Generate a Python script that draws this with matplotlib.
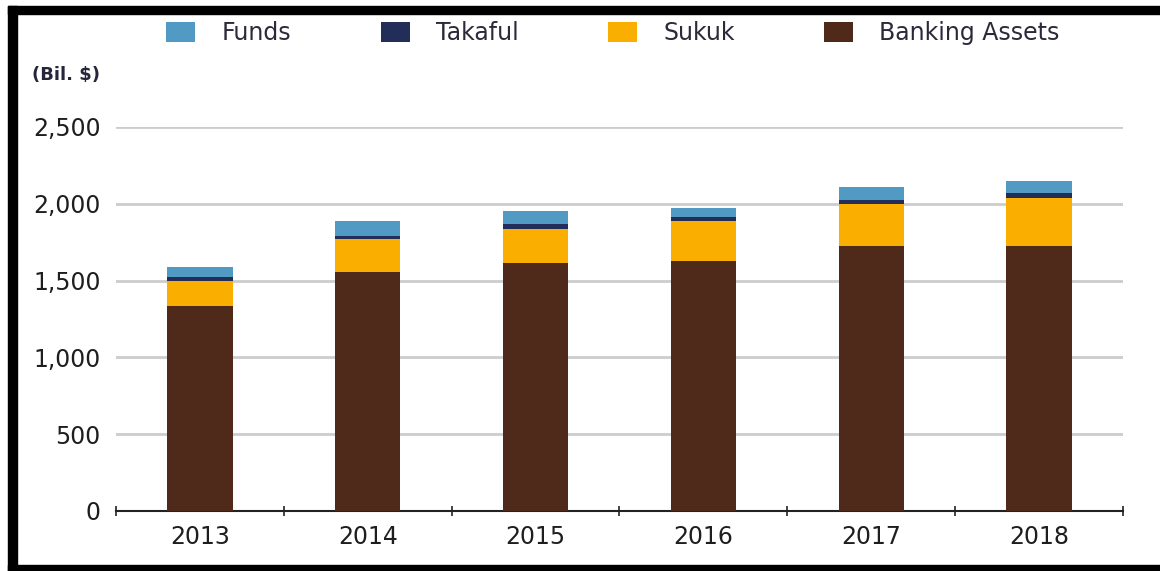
import numpy as np
import matplotlib.pyplot as plt
from matplotlib.patches import Rectangle

# Values (Bil. $)
years = ["2013", "2014", "2015", "2016", "2017", "2018"]
banking = [1333, 1554, 1612, 1628, 1723, 1723]
sukuk = [167, 215, 226, 260, 276, 315]
takaful = [23, 23, 28, 26, 24, 32]
funds = [64, 96, 85, 61, 86, 80]

y_ticks = [0, 500, 1000, 1500, 2000, 2500]
y_labels = ["0", "500", "1,000", "1,500", "2,000", "2,500"]

colors = {
    "Banking Assets": "#4f2a1a",
    "Sukuk": "#f9ae00",
    "Takaful": "#222d5a",
    "Funds": "#519ac4",
}
text_color = "#1e1e1e"

plt.rcParams["font.family"] = "DejaVu Sans"

fig = plt.figure(figsize=(11.6, 5.71), dpi=100)
ax = fig.add_axes([116 / 1160, 1 - 511 / 571, (1123 - 116) / 1160, (511 - 127) / 571])

x = np.arange(len(years))
w = 0.39
b1 = ax.bar(x, banking, w, color=colors["Banking Assets"], zorder=3)
bottom = np.array(banking)
b2 = ax.bar(x, sukuk, w, bottom=bottom, color=colors["Sukuk"], zorder=3)
bottom = bottom + np.array(sukuk)
b3 = ax.bar(x, takaful, w, bottom=bottom, color=colors["Takaful"], zorder=3)
bottom = bottom + np.array(takaful)
b4 = ax.bar(x, funds, w, bottom=bottom, color=colors["Funds"], zorder=3)

ax.set_xlim(-0.5, len(years) - 0.5)
ax.set_ylim(0, 2500)

# y axis: gridlines only
ax.set_yticks(y_ticks)
ax.set_yticklabels(y_labels)
ax.tick_params(axis="y", length=0, pad=11, labelsize=17, labelcolor=text_color)
ax.yaxis.grid(True, color="#cccccc", linewidth=2, zorder=0)

# x axis: labels centered, ticks at category boundaries
ax.set_xticks(x)
ax.set_xticklabels(years)
ax.tick_params(axis="x", which="major", length=0, pad=10, labelsize=17, labelcolor=text_color)
ax.set_xticks(np.arange(-0.5, len(years)), minor=True)
ax.tick_params(axis="x", which="minor", length=7, width=1.2, direction="inout", color="#222222")

for s in ["top", "right", "left"]:
    ax.spines[s].set_visible(False)
ax.spines["bottom"].set_linewidth(1.5)
ax.spines["bottom"].set_color("#222222")

fig.text(32 / 1160, 1 - 75 / 571, "(Bil. $)", fontsize=13, fontweight="bold",
         color="#26263a", va="center", ha="left")

leg = fig.legend([b4, b3, b2, b1], ["Funds", "Takaful", "Sukuk", "Banking Assets"],
                 loc="center", bbox_to_anchor=(613 / 1160, 1 - 33 / 571), ncol=4,
                 frameon=False, fontsize=17, handlelength=1.23, handleheight=0.97,
                 handletextpad=1.1, columnspacing=3.8, labelcolor="#2a2a3a")

# black frame (top, left, bottom)
fig.patches.append(Rectangle((8 / 1160, 1 - 14 / 571), 1 - 8 / 1160, 8 / 571,
                             transform=fig.transFigure, color="black", zorder=10))
fig.patches.append(Rectangle((8 / 1160, 0), 9 / 1160, 1 - 6 / 571,
                             transform=fig.transFigure, color="black", zorder=10))
fig.patches.append(Rectangle((8 / 1160, 0), 1 - 8 / 1160, 6 / 571,
                             transform=fig.transFigure, color="black", zorder=10))

fig.savefig("out.png", dpi=100)
